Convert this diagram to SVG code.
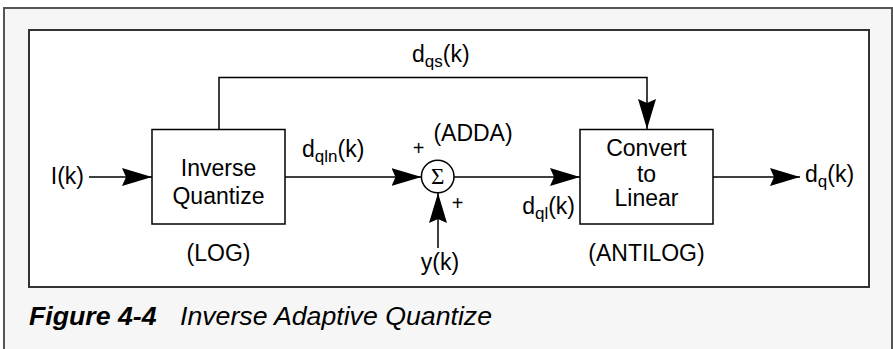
<svg xmlns="http://www.w3.org/2000/svg" width="893" height="349" viewBox="0 0 893 349">
<style>
.t{font-family:"Liberation Sans",Arial,sans-serif;font-size:23px;fill:#000}
.m{text-anchor:middle}
.s{font-size:17px}
.p{font-family:"Liberation Sans",Arial,sans-serif;font-size:20px;fill:#000;text-anchor:middle}
.ln{fill:none;stroke:#000;stroke-width:1.5}
.box{fill:#fff;stroke:#000;stroke-width:1.5}
.cap{font-family:"Liberation Sans",Arial,sans-serif;font-size:26.7px;font-style:italic;fill:#000}
</style>
<defs>
<marker id="ah" viewBox="0 0 30 18" refX="30" refY="9" markerWidth="30" markerHeight="18" markerUnits="userSpaceOnUse" orient="auto">
<path d="M0,0 L30,9 L0,18 L4,9 Z" fill="#000"/>
</marker>
</defs>
<rect x="4" y="8" width="888" height="350" fill="#f6f6f6" stroke="#555" stroke-width="2"/>
<rect x="29" y="30" width="840" height="257" fill="#fff" stroke="#333" stroke-width="2"/>
<g id="connectors">
<path class="ln" d="M89,177 H152" marker-end="url(#ah)"/>
<path class="ln" d="M219,129 V77.5 H647 V129" marker-end="url(#ah)"/>
<path class="ln" d="M285,177 H421.5" marker-end="url(#ah)"/>
<path class="ln" d="M438,248 V193" marker-end="url(#ah)"/>
<path class="ln" d="M454,177 H580" marker-end="url(#ah)"/>
<path class="ln" d="M713,177 H800" marker-end="url(#ah)"/>
</g>
<g id="labels">
<text class="t" x="84" y="184" text-anchor="end">I(k)</text>
<text class="t" x="412" y="62">d<tspan class="s" dy="5">qs</tspan><tspan dy="-5">(k)</tspan></text>
<text class="t" x="302" y="157">d<tspan class="s" dy="5">qln</tspan><tspan dy="-5">(k)</tspan></text>
<text class="t" x="575" y="214" text-anchor="end">d<tspan class="s" dy="5">ql</tspan><tspan dy="-5">(k)</tspan></text>
<text class="t" x="805" y="182">d<tspan class="s" dy="5">q</tspan><tspan dy="-5">(k)</tspan></text>
<text class="t m" x="440" y="270">y(k)</text>
<text class="p" x="418.5" y="155">+</text>
<text class="p" x="457.7" y="209.5">+</text>
<text class="t m" x="473" y="140.7">(ADDA)</text>
</g>
<g id="inverse-quantize">
<rect class="box" x="152" y="129.5" width="133" height="94.5"/>
<text class="t m" x="218.5" y="176">Inverse</text>
<text class="t m" x="218.5" y="204">Quantize</text>
<text class="t m" x="218.5" y="261">(LOG)</text>
</g>
<g id="sum">
<circle cx="437.7" cy="176.5" r="16.3" fill="#fff" stroke="#000" stroke-width="1.5"/>
<text x="437.7" y="184" text-anchor="middle" font-family="'Liberation Serif','Times New Roman',serif" font-size="23">Σ</text>
</g>
<g id="convert-to-linear">
<rect class="box" x="580" y="129.5" width="133" height="94.5"/>
<text class="t m" x="646.5" y="156">Convert</text>
<text class="t m" x="646.5" y="182">to</text>
<text class="t m" x="646.5" y="206">Linear</text>
<text class="t m" x="646.5" y="261">(ANTILOG)</text>
</g>
<g id="caption">
<text class="cap" x="29" y="325" font-weight="bold">Figure 4-4</text>
<text class="cap" x="180" y="325">Inverse Adaptive Quantize</text>
</g>
</svg>
